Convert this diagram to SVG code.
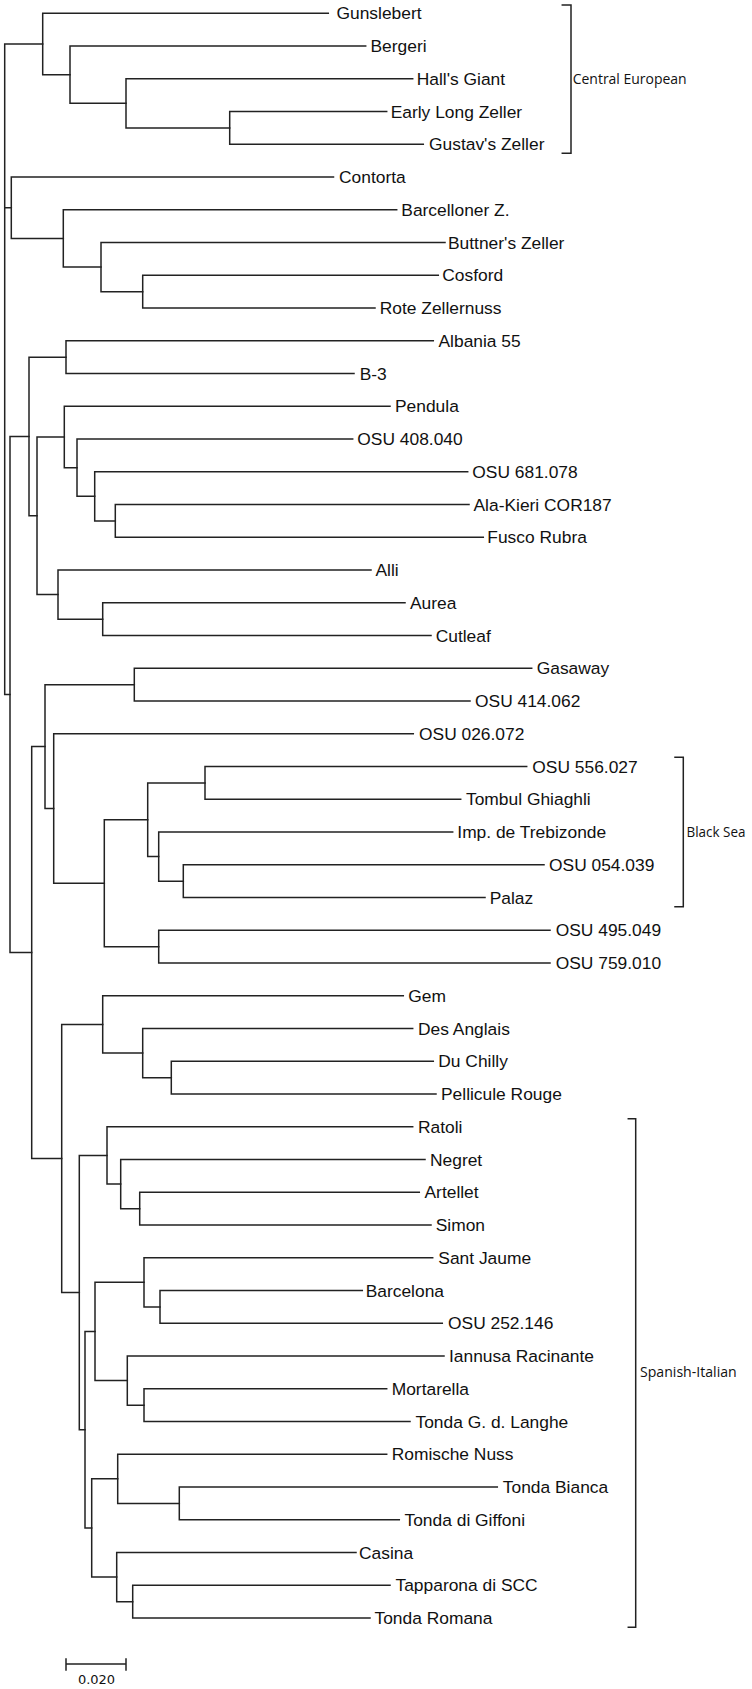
<svg xmlns="http://www.w3.org/2000/svg" width="752" height="1689" viewBox="0 0 752 1689">
<style>
.e{fill:none;stroke:#222;stroke-width:1.5;stroke-linecap:square}
.l{font-family:"Liberation Sans",Arial,sans-serif;font-size:17.4px;fill:#111}
.g{font-family:"Open Sans","DejaVu Sans",sans-serif;font-size:14.5px;fill:#111;lengthAdjust:spacingAndGlyphs}
.s{font-family:"DejaVu Sans",sans-serif;font-size:13px;fill:#111}
</style>
<rect width="752" height="1689" fill="#fff"/>
<g id="connectors" class="e">
<path d="M4.7 44V694.5M4.7 44H42.7M4.7 207.7H11.3M4.7 694.5H10"/>
<path d="M42.7 13.3V74.7M42.7 13.3H328.3M42.7 74.7H70"/>
<path d="M70 46V103.35M70 46H365.7M70 103.35H126"/>
<path d="M126 78.8V127.9M126 78.8H412.7M126 127.9H229.7"/>
<path d="M229.7 111.5V144.3M229.7 111.5H386.7M229.7 144.3H423.3"/>
<path d="M11.3 177V238.4M11.3 177H333.5M11.3 238.4H63.3"/>
<path d="M63.3 209.8V267.1M63.3 209.8H396.7M63.3 267.1H101"/>
<path d="M101 242.5V291.65M101 242.5H445M101 291.65H142.7"/>
<path d="M142.7 275.3V308M142.7 275.3H438.3M142.7 308H375"/>
<path d="M10 436.5V952.55M10 436.5H29M10 952.55H31.7"/>
<path d="M29 357.15V515.8M29 357.15H66M29 515.8H37"/>
<path d="M66 340.8V373.5M66 340.8H433.3M66 373.5H354"/>
<path d="M37 437V594.6M37 437H64.3M37 594.6H58"/>
<path d="M64.3 406.3V467.7M64.3 406.3H390M64.3 467.7H77"/>
<path d="M77 439V496.35M77 439H352.7M77 496.35H94.7"/>
<path d="M94.7 471.8V520.9M94.7 471.8H467.7M94.7 520.9H115.3"/>
<path d="M115.3 504.5V537.3M115.3 504.5H469M115.3 537.3H483.3"/>
<path d="M58 570V619.15M58 570H371M58 619.15H102.7"/>
<path d="M102.7 602.8V635.5M102.7 602.8H405M102.7 635.5H431"/>
<path d="M31.7 746.6V1158.5M31.7 746.6H45M31.7 1158.5H61.7"/>
<path d="M45 684.65V808.5M45 684.65H134.3M45 808.5H53.7"/>
<path d="M134.3 668.3V701M134.3 668.3H531.7M134.3 701H470"/>
<path d="M53.7 733.8V883.2M53.7 733.8H413.3M53.7 883.2H104.3"/>
<path d="M104.3 819.75V946.65M104.3 819.75H147.7M104.3 946.65H158.7"/>
<path d="M147.7 782.9V856.6M147.7 782.9H205M147.7 856.6H158.7"/>
<path d="M205 766.5V799.3M205 766.5H526.7M205 799.3H460.7"/>
<path d="M158.7 832V881.15M158.7 832H452.7M158.7 881.15H183.3"/>
<path d="M183.3 864.8V897.5M183.3 864.8H544M183.3 897.5H485"/>
<path d="M158.7 930.3V963M158.7 930.3H550M158.7 963H550"/>
<path d="M61.7 1024.45V1292.6M61.7 1024.45H102.7M61.7 1292.6H79.3"/>
<path d="M102.7 995.8V1053.1M102.7 995.8H403.3M102.7 1053.1H142.7"/>
<path d="M142.7 1028.5V1077.65M142.7 1028.5H412.7M142.7 1077.65H171.3"/>
<path d="M171.3 1061.3V1094M171.3 1061.3H433.3M171.3 1094H436"/>
<path d="M79.3 1155.45V1429.75M79.3 1155.45H107M79.3 1429.75H85"/>
<path d="M107 1126.8V1184.1M107 1126.8H412.7M107 1184.1H120.7"/>
<path d="M120.7 1159.5V1208.65M120.7 1159.5H425M120.7 1208.65H139.7"/>
<path d="M139.7 1192.3V1225M139.7 1192.3H419.3M139.7 1225H431"/>
<path d="M85 1331.5V1528M85 1331.5H95M85 1528H91.7"/>
<path d="M95 1282.35V1380.6M95 1282.35H144M95 1380.6H127.3"/>
<path d="M144 1257.8V1306.9M144 1257.8H432.7M144 1306.9H160"/>
<path d="M160 1290.5V1323.3M160 1290.5H362.3M160 1323.3H442.3"/>
<path d="M127.3 1356V1405.15M127.3 1356H444M127.3 1405.15H144"/>
<path d="M144 1388.8V1421.5M144 1388.8H386.7M144 1421.5H410"/>
<path d="M91.7 1478.85V1577.1M91.7 1478.85H117.7M91.7 1577.1H116.7"/>
<path d="M117.7 1454.3V1503.4M117.7 1454.3H386.7M117.7 1503.4H179.3"/>
<path d="M179.3 1487V1519.8M179.3 1487H497.3M179.3 1519.8H399.3"/>
<path d="M116.7 1552.5V1601.65M116.7 1552.5H356M116.7 1601.65H132.7"/>
<path d="M132.7 1585.3V1618M132.7 1585.3H390M132.7 1618H370"/>
</g>
<g id="leaves" class="l">
<text id="n-gunslebert" x="336.5" y="19.3">Gunslebert</text>
<text id="n-bergeri" x="370.5" y="52">Bergeri</text>
<text id="n-halls-giant" x="416.7" y="84.8">Hall's Giant</text>
<text id="n-early-long-zeller" x="390.7" y="117.5">Early Long Zeller</text>
<text id="n-gustavs-zeller" x="429" y="150.3">Gustav's Zeller</text>
<text id="n-contorta" x="339" y="183">Contorta</text>
<text id="n-barcelloner" x="401.3" y="215.8">Barcelloner Z.</text>
<text id="n-buttners-zeller" x="448" y="248.5">Buttner's Zeller</text>
<text id="n-cosford" x="442.3" y="281.3">Cosford</text>
<text id="n-rote-zellernuss" x="379.7" y="314">Rote Zellernuss</text>
<text id="n-albania-55" x="438.5" y="346.8">Albania 55</text>
<text id="n-b3" x="359.7" y="379.5">B-3</text>
<text id="n-pendula" x="395" y="412.3">Pendula</text>
<text id="n-osu-408040" x="357.3" y="445">OSU 408.040</text>
<text id="n-osu-681078" x="472.3" y="477.8">OSU 681.078</text>
<text id="n-ala-kieri" x="473.5" y="510.5">Ala-Kieri COR187</text>
<text id="n-fusco-rubra" x="487.3" y="543.3">Fusco Rubra</text>
<text id="n-alli" x="375.5" y="576">Alli</text>
<text id="n-aurea" x="410" y="608.8">Aurea</text>
<text id="n-cutleaf" x="435.7" y="641.5">Cutleaf</text>
<text id="n-gasaway" x="536.7" y="674.3">Gasaway</text>
<text id="n-osu-414062" x="475" y="707">OSU 414.062</text>
<text id="n-osu-026072" x="419" y="739.8">OSU 026.072</text>
<text id="n-osu-556027" x="532.3" y="772.5">OSU 556.027</text>
<text id="n-tombul" x="466" y="805.3">Tombul Ghiaghli</text>
<text id="n-imp-trebizonde" x="457.3" y="838">Imp. de Trebizonde</text>
<text id="n-osu-054039" x="549" y="870.8">OSU 054.039</text>
<text id="n-palaz" x="489.7" y="903.5">Palaz</text>
<text id="n-osu-495049" x="555.7" y="936.3">OSU 495.049</text>
<text id="n-osu-759010" x="555.7" y="969">OSU 759.010</text>
<text id="n-gem" x="408.3" y="1001.8">Gem</text>
<text id="n-des-anglais" x="418" y="1034.5">Des Anglais</text>
<text id="n-du-chilly" x="438.3" y="1067.3">Du Chilly</text>
<text id="n-pellicule-rouge" x="441" y="1100">Pellicule Rouge</text>
<text id="n-ratoli" x="418" y="1132.8">Ratoli</text>
<text id="n-negret" x="430" y="1165.5">Negret</text>
<text id="n-artellet" x="424.5" y="1198.3">Artellet</text>
<text id="n-simon" x="435.7" y="1231">Simon</text>
<text id="n-sant-jaume" x="438.3" y="1263.8">Sant Jaume</text>
<text id="n-barcelona" x="365.7" y="1296.5">Barcelona</text>
<text id="n-osu-252146" x="448" y="1329.3">OSU 252.146</text>
<text id="n-iannusa" x="449" y="1362">Iannusa Racinante</text>
<text id="n-mortarella" x="391.7" y="1394.8">Mortarella</text>
<text id="n-tonda-langhe" x="415.5" y="1427.5">Tonda G. d. Langhe</text>
<text id="n-romische-nuss" x="391.7" y="1460.3">Romische Nuss</text>
<text id="n-tonda-bianca" x="502.8" y="1493">Tonda Bianca</text>
<text id="n-tonda-giffoni" x="404.5" y="1525.8">Tonda di Giffoni</text>
<text id="n-casina" x="359" y="1558.5">Casina</text>
<text id="n-tapparona" x="395.5" y="1591.3">Tapparona di SCC</text>
<text id="n-tonda-romana" x="374.5" y="1624">Tonda Romana</text>
</g>
<g id="group-central-european">
<path class="e" d="M562.3 5H571V153.3H562.3"/>
<text class="g" x="572.7" y="84" textLength="114" lengthAdjust="spacingAndGlyphs">Central European</text>
</g>
<g id="group-black-sea">
<path class="e" d="M675 757.3H683.3V906.7H675"/>
<text class="g" x="686.5" y="836.7" textLength="59" lengthAdjust="spacingAndGlyphs">Black Sea</text>
</g>
<g id="group-spanish-italian">
<path class="e" d="M628.3 1118.7H635.7V1627.3H628.3"/>
<text class="g" x="640" y="1377.3" textLength="96.7" lengthAdjust="spacingAndGlyphs">Spanish-Italian</text>
</g>
<g id="scale-bar">
<path class="e" d="M66 1664H126M66 1659V1670M126 1659V1670"/>
<text class="s" x="96.5" y="1684" text-anchor="middle">0.020</text>
</g>
</svg>
